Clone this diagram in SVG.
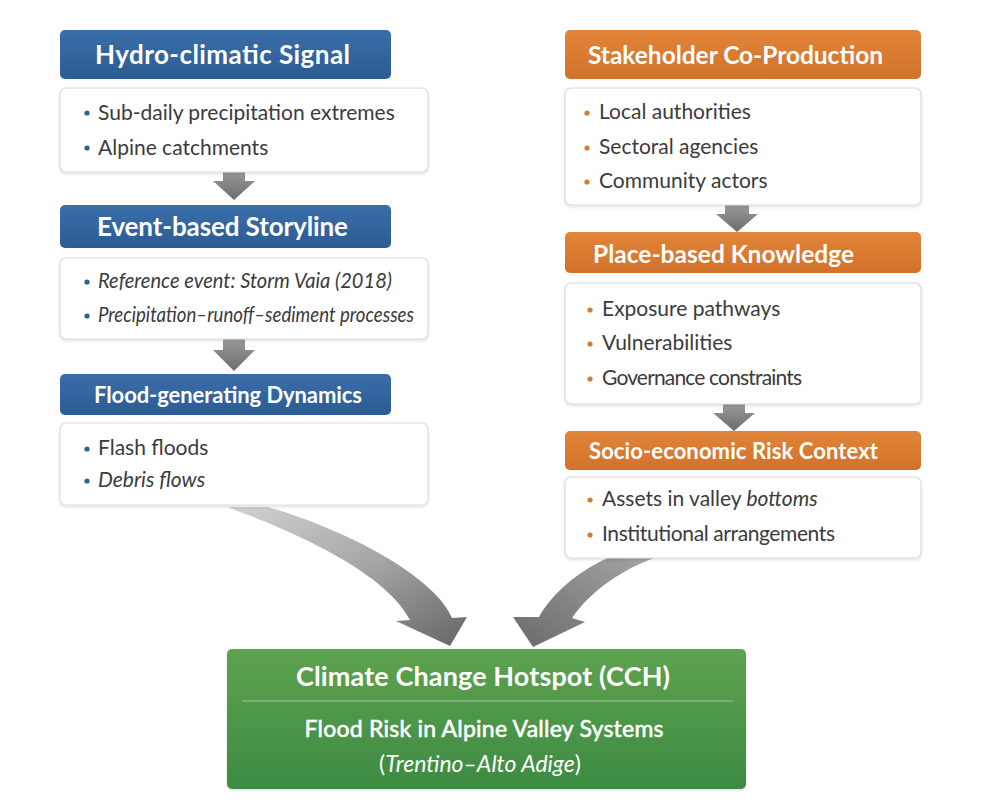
<svg xmlns="http://www.w3.org/2000/svg" width="996" height="810" viewBox="0 0 996 810">
<defs>
<linearGradient id="gBlue" x1="0" y1="0" x2="0" y2="1"><stop offset="0" stop-color="#3a6ea9"/><stop offset="1" stop-color="#2c5b93"/></linearGradient>
<linearGradient id="gOrange" x1="0" y1="0" x2="0" y2="1"><stop offset="0" stop-color="#e2843a"/><stop offset="1" stop-color="#d2722a"/></linearGradient>
<linearGradient id="gGreen" x1="0" y1="0" x2="0" y2="1"><stop offset="0" stop-color="#5ea250"/><stop offset="1" stop-color="#3c8b42"/></linearGradient>
<linearGradient id="gSmall" x1="0" y1="0" x2="0" y2="1"><stop offset="0" stop-color="#9a9a9a"/><stop offset="1" stop-color="#6c6c6c"/></linearGradient>
<linearGradient id="gLeft" x1="0" y1="0" x2="1" y2="1"><stop offset="0" stop-color="#d2d2d2"/><stop offset="0.5" stop-color="#a6a6a6"/><stop offset="1" stop-color="#656565"/></linearGradient>
<linearGradient id="gRight" x1="1" y1="0" x2="0" y2="1"><stop offset="0" stop-color="#a5a5a5"/><stop offset="1" stop-color="#6a6a6a"/></linearGradient>
<filter id="sh" x="-5%" y="-10%" width="110%" height="125%"><feDropShadow dx="0" dy="1.5" stdDeviation="1.5" flood-color="#000" flood-opacity="0.12"/></filter>
</defs>
<style>
.hdr{font-family:"Lato","Liberation Sans",sans-serif;font-weight:700;fill:#ffffff}
.sub{font-family:"Lato","Liberation Sans",sans-serif;font-weight:400;fill:#ffffff}
.txt{font-family:"Lato","Liberation Sans",sans-serif;font-size:21px;fill:#3b3b3b}
.it{font-style:italic}
.body{fill:#ffffff;stroke:#dcdcdc;stroke-width:1.2}
.bb{fill:#2f5f97}
.ob{fill:#d87a30}
</style>
<rect width="996" height="810" fill="#ffffff"/>

<g id="connectors">
<path d="M223 171 H245 V181 H255 L234 200 L213 181 H223 Z" fill="url(#gSmall)"/>
<path d="M223 339 H245 V350 H255 L234 371 L213 350 H223 Z" fill="url(#gSmall)"/>
<path d="M725 205 H749 V214 H758 L737 232 L716 214 H725 Z" fill="url(#gSmall)"/>
<path d="M723 404 H745 V413 H755 L734 431 L713 413 H723 Z" fill="url(#gSmall)"/>
<path d="M227 507 C295 532 385 572 410 620 L396 621 L450 646 L467 617 L452 618 C438 582 360 534 268 507 Z" fill="url(#gLeft)"/>
<path d="M610 557 C580 570 553 592 539 617 L513 617 L533 647 L585 622 L572 618 C590 592 620 570 657 557 Z" fill="url(#gRight)"/>
</g>

<g id="hydro">
<rect x="60" y="30" width="331" height="49" rx="5" fill="url(#gBlue)"/>
<text class="hdr" x="95" y="64" font-size="26" textLength="255">Hydro-climatic Signal</text>
</g>
<g id="hydro-body">
<rect class="body" x="60" y="88" width="368" height="84" rx="6" filter="url(#sh)"/>
<circle class="bb" cx="87" cy="113" r="2.6"/><text class="txt" x="98" y="120">Sub-daily precipitation extremes</text>
<circle class="bb" cx="87" cy="148" r="2.6"/><text class="txt" x="98" y="155">Alpine catchments</text>
</g>

<g id="storyline">
<rect x="60" y="205" width="331" height="43" rx="5" fill="url(#gBlue)"/>
<text class="hdr" x="97" y="236" font-size="26" textLength="251">Event-based Storyline</text>
</g>
<g id="storyline-body">
<rect class="body" x="60" y="258" width="368" height="81" rx="6" filter="url(#sh)"/>
<circle class="bb" cx="87" cy="282" r="2.6"/><text class="txt it" x="98" y="288" textLength="294" lengthAdjust="spacingAndGlyphs">Reference event: Storm Vaia (2018)</text>
<circle class="bb" cx="87" cy="316" r="2.6"/><text class="txt it" x="98" y="322" textLength="316" lengthAdjust="spacingAndGlyphs">Precipitation–runoff–sediment processes</text>
</g>

<g id="dynamics">
<rect x="60" y="374" width="331" height="41" rx="5" fill="url(#gBlue)"/>
<text class="hdr" x="94" y="403" font-size="22" textLength="268">Flood-generating Dynamics</text>
</g>
<g id="dynamics-body">
<rect class="body" x="60" y="423" width="368" height="82" rx="6" filter="url(#sh)"/>
<circle class="bb" cx="87" cy="449" r="2.6"/><text class="txt" x="98" y="455">Flash floods</text>
<circle class="bb" cx="87" cy="481" r="2.6"/><text class="txt it" x="98" y="487">Debris flows</text>
</g>

<g id="stakeholder">
<rect x="565" y="30" width="356" height="49" rx="5" fill="url(#gOrange)"/>
<text class="hdr" x="588" y="64" font-size="24.5" textLength="295">Stakeholder Co-Production</text>
</g>
<g id="stakeholder-body">
<rect class="body" x="565" y="88" width="356" height="117" rx="6" filter="url(#sh)"/>
<circle class="ob" cx="587" cy="113" r="2.6"/><text class="txt" x="599" y="119">Local authorities</text>
<circle class="ob" cx="587" cy="148" r="2.6"/><text class="txt" x="599" y="154">Sectoral agencies</text>
<circle class="ob" cx="587" cy="182" r="2.6"/><text class="txt" x="599" y="188">Community actors</text>
</g>

<g id="place">
<rect x="565" y="232" width="356" height="41" rx="5" fill="url(#gOrange)"/>
<text class="hdr" x="593" y="263" font-size="24.5" textLength="261">Place-based Knowledge</text>
</g>
<g id="place-body">
<rect class="body" x="565" y="283" width="356" height="121" rx="6" filter="url(#sh)"/>
<circle class="ob" cx="590" cy="310" r="2.6"/><text class="txt" x="602" y="316">Exposure pathways</text>
<circle class="ob" cx="590" cy="344" r="2.6"/><text class="txt" x="602" y="350">Vulnerabilities</text>
<circle class="ob" cx="590" cy="379" r="2.6"/><text class="txt" x="602" y="385" textLength="200">Governance constraints</text>
</g>

<g id="socio">
<rect x="565" y="431" width="356" height="39" rx="5" fill="url(#gOrange)"/>
<text class="hdr" x="589" y="459" font-size="22" textLength="289">Socio-economic Risk Context</text>
</g>
<g id="socio-body">
<rect class="body" x="565" y="477" width="356" height="81" rx="6" filter="url(#sh)"/>
<circle class="ob" cx="590" cy="500" r="2.6"/><text class="txt" x="602" y="506">Assets in valley <tspan class="it">bottoms</tspan></text>
<circle class="ob" cx="590" cy="535" r="2.6"/><text class="txt" x="602" y="541" textLength="233">Institutional arrangements</text>
</g>

<g id="hotspot">
<rect x="227" y="649" width="519" height="140" rx="5" fill="url(#gGreen)" filter="url(#sh)"/>
<text class="hdr" x="483" y="686" font-size="27" text-anchor="middle" textLength="374">Climate Change Hotspot (CCH)</text>
<line x1="242" y1="701" x2="733" y2="701" stroke="#ffffff" stroke-opacity="0.45" stroke-width="1.2"/>
<text class="sub" x="484" y="737" font-size="23" text-anchor="middle" stroke="#ffffff" stroke-width="0.6" textLength="359">Flood Risk in Alpine Valley Systems</text>
<text class="sub" x="480" y="772" font-size="23" text-anchor="middle">(<tspan class="it">Trentino–Alto Adige</tspan>)</text>
</g>
</svg>
